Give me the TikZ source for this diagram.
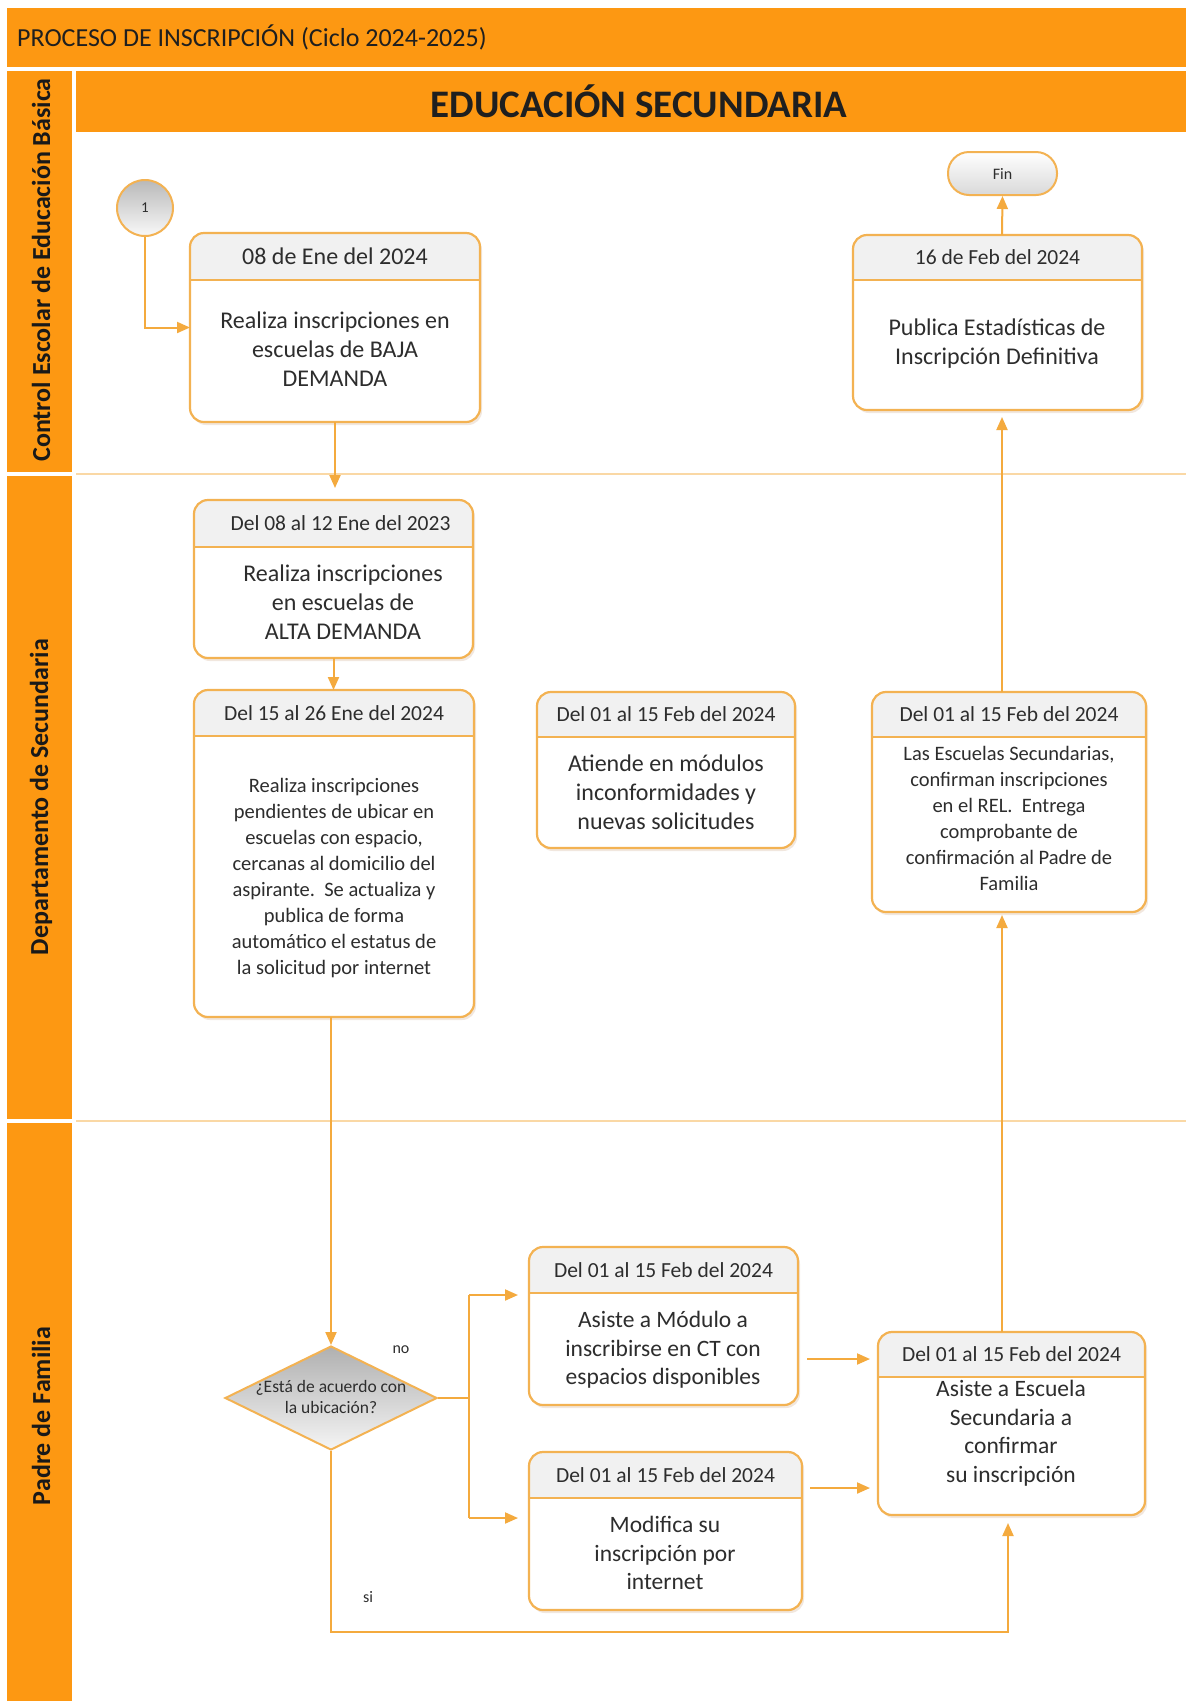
\documentclass[tikz,border=0pt]{standalone}
\usepackage{fontspec}
\setmainfont{Carlito}
\usetikzlibrary{arrows.meta,shapes.geometric,shadows,calc}
\definecolor{orng}{RGB}{253,152,18}
\definecolor{boxborder}{RGB}{243,178,82}
\definecolor{connc}{RGB}{244,170,62}
\definecolor{lanel}{RGB}{250,216,165}
\definecolor{txt}{RGB}{45,45,45}
\definecolor{hdrgray}{RGB}{241,241,241}

\newcommand{\procbox}[9]{%
  \node[pbox, minimum width={#4-#2}, minimum height={#5-#3}] (#1) at ({(#2+#4)/2},{(#3+#5)/2}) {};
  \begin{scope}
    \clip[rounded corners=14pt] (#2,#3) rectangle (#4,#5);
    \fill[hdrgray] (#2,#3) rectangle (#4,#6);
  \end{scope}
  \draw[hdrline] (#2,#6) -- (#4,#6);
  \draw[boxline, rounded corners=14pt] (#1.north west) rectangle (#1.south east);
  \node[hdrtext] (#1-h) at ({(#2+#4)/2},{(#3+#6)/2}) {#7};
  \node[bodytext, #8] (#1-b) {#9};
}

\begin{document}
\begin{tikzpicture}[x=1pt,y=-1pt,
  pbox/.style={rectangle, rounded corners=14pt, fill=white, draw=none, inner sep=0pt, outer sep=0pt,
    drop shadow={shadow xshift=2pt, shadow yshift=-3pt, fill=orange!60!black, opacity=0.13}},
  boxline/.style={draw=boxborder, line width=2.2pt},
  hdrline/.style={draw=boxborder, line width=1.6pt},
  hdrtext/.style={font=\fontsize{21.5}{26}\selectfont, text=txt, inner sep=0pt},
  bodytext/.style={align=center, text=txt, inner sep=0pt, font=\fontsize{24}{29}\selectfont},
  conn/.style={draw=connc, line width=2pt},
  arr/.style={conn, -{Triangle[length=13pt,width=11pt]}},
  lanetext/.style={rotate=90, font=\bfseries\fontsize{26}{30}\selectfont, text=black!90, inner sep=0pt},
]
\useasboundingbox (0,0) rectangle (1186,1701);
\fill[white] (0,0) rectangle (1186,1701);

% bands
\fill[orng] (7,8) rectangle (1186,67);
\fill[orng] (76,71) rectangle (1186,132);
\fill[orng] (7,71) rectangle (72,472);
\fill[orng] (7,476) rectangle (72,1119);
\fill[orng] (7,1123) rectangle (72,1701);
\draw[lanel, line width=2.5pt] (76,474) -- (1186,474);
\draw[lanel, line width=2.5pt] (76,1121) -- (1186,1121);

\node[anchor=west, font=\fontsize{26}{31}\selectfont, text=black!88, inner sep=0pt] (title) at (17,37) {PROCESO DE INSCRIPCIÓN (Ciclo 2024-2025)};
\node[font=\bfseries\fontsize{39}{46}\selectfont, text=black!88, inner sep=0pt] (sec) at (639,101) {EDUCACIÓN SECUNDARIA};

\node[lanetext] (lane1) at (41,270) {Control Escolar de Educación Básica};
\node[lanetext] (lane2) at (41,797) {Departamento de Secundaria};
\node[lanetext] (lane3) at (41,1416) {Padre de Familia};

% start / end
\node[circle, minimum size=56pt, inner sep=0pt, draw=boxborder, line width=2pt, top color=gray!55, bottom color=gray!5,
  font=\fontsize{15}{18}\selectfont, text=txt] (c1) at (145,208) {1};
\node[rectangle, rounded corners=21pt, minimum width=109pt, minimum height=43pt, inner sep=0pt, draw=boxborder, line width=2pt,
  top color=white, bottom color=gray!30, font=\fontsize{16}{19}\selectfont, text=txt] (fin) at (1002.5,173.5) {Fin};

% boxes
\procbox{A}{190}{233}{480}{422}{280}{\fontsize{24}{28}\selectfont 08 de Ene del 2024}{at={(335,349)}}{Realiza inscripciones en\\escuelas de BAJA\\DEMANDA}
\procbox{B}{853}{235}{1142}{410}{280}{16 de Feb del 2024}{at={(997,344)}}{Publica Estadísticas de\\Inscripción Definitiva}
\procbox{C}{194}{500}{473}{658}{547}{\hspace*{14pt}Del 08 al 12 Ene del 2023}{at={(343,602)}}{Realiza inscripciones\\en escuelas de\\ALTA DEMANDA}
\procbox{D}{194}{690}{474}{1017}{736}{Del 15 al 26 Ene del 2024}{at={(334,878)}, font=\fontsize{20.5}{26}\selectfont}{Realiza inscripciones\\pendientes de ubicar en\\escuelas con espacio,\\cercanas al domicilio del\\aspirante.\ \ Se actualiza y\\publica de forma\\automático el estatus de\\la solicitud por internet}
\procbox{E}{537}{692}{795}{848}{737}{Del 01 al 15 Feb del 2024}{at={(666,792)}}{Atiende en módulos\\inconformidades y\\nuevas solicitudes}
\procbox{F}{872}{692}{1146}{912}{737}{Del 01 al 15 Feb del 2024}{at={(1009,818)}, font=\fontsize{20.5}{26}\selectfont}{Las Escuelas Secundarias,\\confirman inscripciones\\en el REL.\ \ Entrega\\comprobante de\\confirmación al Padre de\\Familia}
\procbox{G}{529}{1247}{798}{1405}{1293}{Del 01 al 15 Feb del 2024}{at={(663,1350)}, font=\fontsize{23.5}{28.5}\selectfont}{Asiste a Módulo a\\inscribirse en CT con\\espacios disponibles}
\procbox{H}{529}{1452}{802}{1610}{1498}{Del 01 al 15 Feb del 2024}{at={(665,1553)}, font=\fontsize{23.5}{28.5}\selectfont}{Modifica su\\inscripción por\\internet}
\procbox{I}{878}{1332}{1145}{1515}{1377}{Del 01 al 15 Feb del 2024}{at={(1011,1433)}, font=\fontsize{23.5}{28.5}\selectfont}{Asiste a Escuela\\Secundaria a\\confirmar\\su inscripción}

% decision
\node[diamond, minimum width=212pt, minimum height=104pt, inner sep=0pt, draw=boxborder, line width=2pt,
  top color=gray!62, bottom color=gray!8] (dia) at (331,1398) {};
\node[align=center, font=\fontsize{17.5}{21}\selectfont, text=txt, inner sep=0pt] (diat) at (331,1397) {¿Está de acuerdo con\\la ubicación?};
\node[font=\fontsize{16}{19}\selectfont, text=txt, inner sep=0pt] (nolbl) at (401,1350) {no};
\node[font=\fontsize{16}{19}\selectfont, text=txt, inner sep=0pt] (silbl) at (368,1597) {si};

% connectors
\draw[arr] (c1.south) |- (A.west);
\draw[arr, shorten >=12pt] (A.south) -- (A.south |- C.north);
\draw[arr] (C.south) -- (C.south |- D.north);
\draw[arr] (dia.north |- D.south) -- (dia.north);
\coordinate (j) at (469,1398);
\coordinate (jt) at (469,1295);
\coordinate (jb) at (469,1518);
\draw[conn] (dia.east) -- (j);
\draw[conn] (jt) -- (jb);
\draw[arr, shorten >=11pt] (jt) -- (jt -| G.west);
\draw[arr, shorten >=11pt] (jb) -- (jb -| H.west);
\coordinate (gy) at (0,1359);
\coordinate (hy) at (0,1488);
\draw[arr, shorten <=9pt, shorten >=8pt] (G.east |- gy) -- (I.west |- gy);
\draw[arr, shorten <=8pt, shorten >=8pt] (H.east |- hy) -- (I.west |- hy);
\coordinate (sr) at (1008,1632);
\draw[arr, shorten >=8pt] (dia.south) |- (sr) -- (sr |- I.south);
\coordinate (vx) at (1002,0);
\draw[arr, shorten >=3pt] (vx |- I.north) -- (vx |- F.south);
\draw[arr, shorten >=7pt] (vx |- F.north) -- (vx |- B.south);
\draw[arr] (vx |- B.north) -- (fin.south);
\end{tikzpicture}
\end{document}
